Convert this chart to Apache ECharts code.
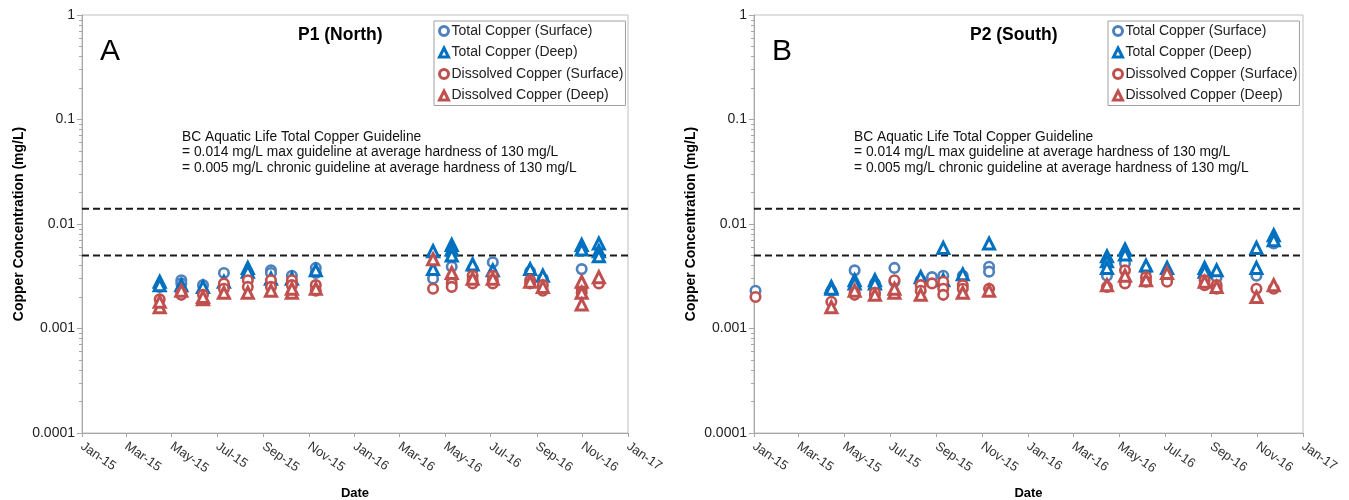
<!DOCTYPE html>
<html>
<head>
<meta charset="utf-8">
<script src="https://cdn.jsdelivr.net/npm/echarts@6/dist/echarts.min.js"></script>
<style>
html,body{margin:0;padding:0;background:#fff;}
#chart{width:1349px;height:500px;}
</style>
</head>
<body>
<div id="chart"></div>
<script>
// ---- Data ----
const seriesNames = ['Total Copper (Surface)', 'Total Copper (Deep)', 'Dissolved Copper (Surface)', 'Dissolved Copper (Deep)'];
const guidelines = [0.014, 0.005];
const yTickLabels = [1, 0.1, 0.01, 0.001, 0.0001];
const xTickDates = ['2015-01-01','2015-03-01','2015-05-01','2015-07-01','2015-09-01','2015-11-01','2016-01-01','2016-03-01','2016-05-01','2016-07-01','2016-09-01','2016-11-01','2017-01-01'];
const minorTickValues = [0.0002,0.0003,0.0004,0.0005,0.0006,0.0007,0.0008,0.0009,0.002,0.003,0.004,0.005,0.006,0.007,0.008,0.009,0.02,0.03,0.04,0.05,0.06,0.07,0.08,0.09,0.2,0.3,0.4,0.5,0.6,0.7,0.8,0.9];

// Panel A - P1 (North)
const p1TotalSurface = [
  ['2015-04-15',0.0025],['2015-05-14',0.0029],['2015-05-14',0.0027],['2015-06-12',0.0026],
  ['2015-07-10',0.0034],['2015-08-11',0.0032],['2015-08-11',0.0030],['2015-09-11',0.0036],['2015-09-11',0.0034],
  ['2015-10-09',0.0032],['2015-11-10',0.0038],['2015-11-10',0.0034],
  ['2016-04-15',0.0030],['2016-05-10',0.0039],['2016-06-07',0.0037],['2016-07-04',0.0043],
  ['2016-08-23',0.0035],['2016-09-09',0.0030],['2016-10-31',0.0037]
];
const p1TotalDeep = [
  ['2015-04-15',0.0028],['2015-04-15',0.0026],['2015-05-14',0.0026],['2015-06-12',0.0025],
  ['2015-07-10',0.0028],['2015-08-11',0.0038],['2015-08-11',0.0035],['2015-09-11',0.0030],
  ['2015-10-09',0.0030],['2015-11-10',0.0036],
  ['2016-04-15',0.0055],['2016-04-15',0.0037],['2016-05-10',0.0063],['2016-05-10',0.0057],['2016-05-10',0.0050],
  ['2016-06-07',0.0041],['2016-07-04',0.0036],['2016-08-23',0.0037],['2016-09-09',0.0032],
  ['2016-10-31',0.0063],['2016-10-31',0.0057],['2016-11-23',0.0065],['2016-11-23',0.0055],['2016-11-23',0.0049]
];
const p1DissolvedSurface = [
  ['2015-04-15',0.0019],['2015-05-14',0.0022],['2015-05-14',0.0021],['2015-06-12',0.0021],
  ['2015-07-10',0.0027],['2015-07-10',0.0024],['2015-08-11',0.0029],['2015-08-11',0.0025],
  ['2015-09-11',0.0029],['2015-09-11',0.0025],['2015-10-09',0.0029],['2015-10-09',0.0026],
  ['2015-11-10',0.0026],['2015-11-10',0.0023],
  ['2016-04-15',0.0024],['2016-05-10',0.0030],['2016-05-10',0.0027],['2016-05-10',0.0025],
  ['2016-06-07',0.0032],['2016-06-07',0.0029],['2016-06-07',0.0027],
  ['2016-07-04',0.0032],['2016-07-04',0.0029],['2016-07-04',0.0027],
  ['2016-08-23',0.0029],['2016-08-23',0.0027],['2016-09-09',0.0026],['2016-09-09',0.0023],
  ['2016-10-31',0.0024],['2016-10-31',0.0022],['2016-11-23',0.0027]
];
const p1DissolvedDeep = [
  ['2015-04-15',0.0016],['2015-04-15',0.0018],['2015-05-14',0.0023],['2015-06-12',0.0019],['2015-06-12',0.0020],
  ['2015-07-10',0.0022],['2015-08-11',0.0022],['2015-09-11',0.0023],['2015-10-09',0.0022],['2015-10-09',0.0024],
  ['2015-11-10',0.0024],
  ['2016-04-15',0.0046],['2016-05-10',0.0034],['2016-06-07',0.0030],['2016-07-04',0.0030],
  ['2016-08-23',0.0028],['2016-09-09',0.0025],['2016-10-31',0.0028],['2016-10-31',0.0022],['2016-10-31',0.0017],
  ['2016-11-23',0.0031]
];

// Panel B - P2 (South)
const p2TotalSurface = [
  ['2015-01-03',0.0023],['2015-04-14',0.0023],['2015-05-15',0.0036],['2015-06-11',0.0027],
  ['2015-07-07',0.0038],['2015-07-07',0.0028],['2015-08-11',0.0029],['2015-08-26',0.0031],
  ['2015-09-10',0.0032],['2015-10-06',0.0032],['2015-11-10',0.0039],['2015-11-10',0.0035],
  ['2016-04-15',0.0032],['2016-05-09',0.0042],['2016-06-06',0.0036],['2016-07-04',0.0034],
  ['2016-08-23',0.0034],['2016-09-08',0.0031],['2016-10-31',0.0032],['2016-11-23',0.0065]
];
const p2TotalDeep = [
  ['2015-04-14',0.0025],['2015-04-14',0.0024],['2015-05-15',0.0029],['2015-05-15',0.0027],
  ['2015-06-11',0.0029],['2015-06-11',0.0027],['2015-08-11',0.0031],['2015-09-10',0.0059],['2015-09-10',0.0029],
  ['2015-10-06',0.0033],['2015-11-10',0.0065],
  ['2016-04-15',0.0049],['2016-04-15',0.0044],['2016-04-15',0.0038],['2016-05-09',0.0057],['2016-05-09',0.0051],
  ['2016-06-06',0.0040],['2016-07-04',0.0038],['2016-08-23',0.0038],['2016-08-23',0.0035],['2016-09-08',0.0036],
  ['2016-10-31',0.0059],['2016-10-31',0.0038],['2016-11-23',0.0078],['2016-11-23',0.0070]
];
const p2DissolvedSurface = [
  ['2015-01-03',0.0020],['2015-04-14',0.0018],['2015-05-15',0.0022],['2015-05-15',0.0021],
  ['2015-06-11',0.0021],['2015-06-11',0.0022],['2015-07-07',0.0029],['2015-08-11',0.0026],['2015-08-11',0.0023],
  ['2015-08-26',0.0027],['2015-09-10',0.0028],['2015-09-10',0.0024],['2015-09-10',0.0021],
  ['2015-10-06',0.0026],['2015-10-06',0.0024],['2015-11-10',0.0024],
  ['2016-04-15',0.0025],['2016-05-09',0.0036],['2016-05-09',0.0027],
  ['2016-06-06',0.0031],['2016-06-06',0.0028],['2016-07-04',0.0030],['2016-07-04',0.0028],
  ['2016-08-23',0.0029],['2016-08-23',0.0026],['2016-09-08',0.0026],['2016-09-08',0.0024],
  ['2016-10-31',0.0024],['2016-11-23',0.0024]
];
const p2DissolvedDeep = [
  ['2015-04-14',0.0016],['2015-05-15',0.0023],['2015-06-11',0.0021],['2015-07-07',0.0022],['2015-07-07',0.0024],
  ['2015-08-11',0.0021],['2015-10-06',0.0022],['2015-11-10',0.0023],
  ['2016-04-15',0.0026],['2016-05-09',0.0032],['2016-06-06',0.0029],['2016-07-04',0.0034],
  ['2016-08-23',0.0028],['2016-09-08',0.0025],['2016-10-31',0.0020],['2016-11-23',0.0026]
];

// ---- Chart ----
const FONT = 'Liberation Sans, Arial, sans-serif';
const MON = ['Jan','Feb','Mar','Apr','May','Jun','Jul','Aug','Sep','Oct','Nov','Dec'];
function ts(s){ const p = s.split('-').map(Number); return Date.UTC(p[0], p[1]-1, p[2]); }
const xTicks = xTickDates.map(ts);
const xMin = xTicks[0], xMax = xTicks[xTicks.length-1];
function fmtDate(v){ const d = new Date(v); return MON[d.getUTCMonth()] + '-' + String(d.getUTCFullYear()).slice(2); }

const styles = [
  {symbol:'circle', color:'#4F81BD', size:9.5, bw:2.6},
  {symbol:'triangle', color:'#0070C0', size:11, bw:3},
  {symbol:'circle', color:'#C0504D', size:9.5, bw:2.6},
  {symbol:'triangle', color:'#C0504D', size:11, bw:3}
];

const grids = [
  {left:82, top:15, width:546, height:418, show:true, borderColor:'#BFBFBF', borderWidth:1, containLabel:false, outerBoundsMode:'none'},
  {left:754, top:15, width:549, height:418, show:true, borderColor:'#BFBFBF', borderWidth:1, containLabel:false, outerBoundsMode:'none'}
];

function makeX(i){
  return {
    type:'value', gridIndex:i, min:xMin, max:xMax,
    name:'Date', nameLocation:'middle', nameGap:54,
    nameTextStyle:{fontFamily:FONT, fontSize:13, fontWeight:'bold', color:'#000'},
    axisLine:{show:true, lineStyle:{color:'#A6A6A6'}},
    axisTick:{show:true, length:4, lineStyle:{color:'#A6A6A6'}, customValues:xTicks},
    axisLabel:{customValues:xTicks, formatter:fmtDate, rotate:-35, fontFamily:FONT, fontSize:13, color:'#333', margin:12, hideOverlap:false, showMinLabel:true, showMaxLabel:true},
    splitLine:{show:false}
  };
}
function makeY(i){
  return {
    type:'log', logBase:10, gridIndex:i, min:0.0001, max:1,
    name:'Copper Concentration (mg/L)', nameLocation:'middle', nameGap:56,
    nameTextStyle:{fontFamily:FONT, fontSize:14, fontWeight:'bold', color:'#000'},
    axisLine:{show:true, lineStyle:{color:'#A6A6A6'}},
    axisTick:{show:true, length:5, lineStyle:{color:'#A6A6A6'}, customValues:yTickLabels},
    axisLabel:{customValues:yTickLabels, formatter:function(v){ return String(+(+v).toPrecision(1)); }, fontFamily:FONT, fontSize:14, color:'#222', margin:7, showMinLabel:true, showMaxLabel:true},
    splitLine:{show:false}
  };
}
function makeMinorY(i){
  return {
    type:'log', logBase:10, gridIndex:i, min:0.0001, max:1, position:'left',
    axisLine:{show:false},
    axisTick:{show:true, length:3, lineStyle:{color:'#A6A6A6'}, customValues:minorTickValues},
    axisLabel:{show:false},
    splitLine:{show:false}
  };
}

const panels = [
  [p1TotalSurface, p1TotalDeep, p1DissolvedSurface, p1DissolvedDeep],
  [p2TotalSurface, p2TotalDeep, p2DissolvedSurface, p2DissolvedDeep]
];

const series = [];
panels.forEach(function(data, pi){
  guidelines.forEach(function(g){
    series.push({
      name:'Guideline ' + g, type:'line', xAxisIndex:pi, yAxisIndex:pi*2,
      data:[[xMin, g],[xMax, g]], symbol:'none', silent:true,
      lineStyle:{color:'#1A1A1A', type:[7,4], width:2}, z:2
    });
  });
  data.forEach(function(arr, si){
    const st = styles[si];
    series.push({
      name: seriesNames[si], type:'scatter', xAxisIndex:pi, yAxisIndex:pi*2,
      data: arr.map(function(d){ return [ts(d[0]), d[1]]; }),
      symbol: st.symbol, symbolSize: st.size,
      itemStyle:{color:'#FFFFFF', borderColor:st.color, borderWidth:st.bw, opacity:1},
      emphasis:{disabled:true}, z: 3 + si
    });
  });
});

function legend(left){
  return {
    data: seriesNames.map(function(n, i){
      return {name:n, itemStyle:{color:'#FFFFFF', borderColor:styles[i].color, borderWidth:3}};
    }),
    orient:'vertical', left:left, top:21,
    padding:[3,2,3,4], itemGap:7.5, itemWidth:9, itemHeight:9,
    borderColor:'#A0A0A0', borderWidth:1, borderRadius:0,
    textStyle:{fontFamily:FONT, fontSize:14, color:'#222', lineHeight:14, padding:[0,0,0,-2]},
    selectedMode:false
  };
}

const annotation = ['BC Aquatic Life Total Copper Guideline',
  '= 0.014 mg/L max guideline at average hardness of 130 mg/L',
  '= 0.005 mg/L chronic guideline at average hardness of 130 mg/L'].join('\n');

function texts(ox, letter, title){
  return [
    {type:'text', left:ox+18, top:37, style:{text:letter, font:'30px ' + FONT, fill:'#000'}},
    {type:'text', left:ox+216, top:26, style:{text:title, font:'bold 17.5px ' + FONT, fill:'#000'}},
    {type:'text', left:ox+100, top:129, style:{text:annotation, font:'13.8px ' + FONT, fill:'#111', lineHeight:15.5}}
  ];
}

const option = {
  animation:false,
  backgroundColor:'#fff',
  grid: grids,
  xAxis: [makeX(0), makeX(1)],
  yAxis: [makeY(0), makeMinorY(0), makeY(1), makeMinorY(1)],
  legend: [legend(434), legend(1108)],
  series: series,
  graphic: texts(82, 'A', 'P1 (North)').concat(texts(754, 'B', 'P2 (South)'))
};

const chart = echarts.init(document.getElementById('chart'), null, {renderer:'canvas'});
chart.setOption(option);
</script>
</body>
</html>
